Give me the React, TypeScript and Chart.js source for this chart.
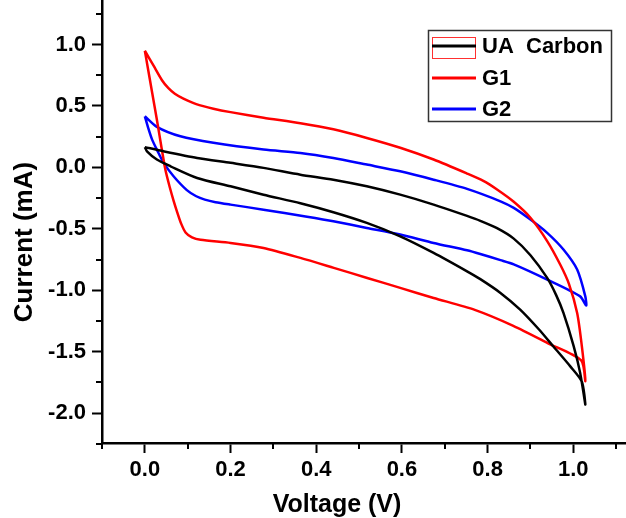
import React, { useEffect, useRef } from 'react';
import { Chart, registerables } from 'chart.js';

Chart.register(...registerables);

// ---- Data ----
// UA Carbon (black loop): upper branch left->right, then lower branch right->left
const uaVoltage = [
  0.000, 0.044, 0.122, 0.200, 0.277, 0.363, 0.440, 0.518, 0.596, 0.674, 0.752, 0.783, 0.822, 0.861, 0.900, 0.939, 0.960, 0.977, 1.001, 1.016, 1.028,
  1.020, 0.993, 0.954, 0.920, 0.876, 0.830, 0.783, 0.752, 0.674, 0.596, 0.518, 0.440, 0.363, 0.277, 0.200, 0.122, 0.060, 0.028, 0.005, 0.000,
];
const uaCurrent = [
  0.165, 0.131, 0.077, 0.037, -0.004, -0.059, -0.100, -0.154, -0.222, -0.303, -0.395, -0.435, -0.495, -0.580, -0.715, -0.900, -1.040, -1.185, -1.457, -1.673, -1.930,
  -1.745, -1.620, -1.460, -1.320, -1.158, -1.022, -0.910, -0.846, -0.696, -0.561, -0.452, -0.365, -0.292, -0.222, -0.154, -0.086, 0.009, 0.064, 0.131, 0.165,
];

// G1 (red loop)
const g1Voltage = [
  0.000, 0.020, 0.040, 0.055, 0.070, 0.090, 0.120, 0.160, 0.200, 0.277, 0.363, 0.440, 0.518, 0.596, 0.674, 0.752, 0.790, 0.822, 0.861, 0.900, 0.939, 0.970, 0.990, 1.009, 1.020, 1.028,
  1.018, 0.940, 0.860, 0.770, 0.674, 0.596, 0.519, 0.441, 0.363, 0.277, 0.200, 0.130, 0.110, 0.095, 0.085, 0.076, 0.067, 0.058, 0.048, 0.038, 0.028, 0.017, 0.006, 0.000,
];
const g1Current = [
  0.950, 0.830, 0.710, 0.645, 0.600, 0.560, 0.515, 0.478, 0.450, 0.405, 0.360, 0.310, 0.240, 0.160, 0.064, -0.050, -0.110, -0.180, -0.280, -0.410, -0.600, -0.795, -0.950, -1.185, -1.457, -1.740,
  -1.570, -1.430, -1.290, -1.160, -1.063, -0.981, -0.900, -0.818, -0.737, -0.656, -0.615, -0.590, -0.570, -0.530, -0.460, -0.370, -0.270, -0.160, -0.020, 0.180, 0.390, 0.610, 0.830, 0.950,
];

// G2 (blue loop)
const g2Voltage = [
  0.000, 0.028, 0.083, 0.160, 0.277, 0.363, 0.440, 0.518, 0.596, 0.674, 0.752, 0.830, 0.861, 0.900, 0.939, 0.977, 1.009, 1.028, 1.030,
  1.016, 0.939, 0.861, 0.830, 0.783, 0.752, 0.674, 0.596, 0.518, 0.440, 0.375, 0.277, 0.200, 0.165, 0.140, 0.120, 0.098, 0.067, 0.044, 0.028, 0.017, 0.008, 0.000,
];
const g2Current = [
  0.416, 0.330, 0.253, 0.200, 0.145, 0.118, 0.077, 0.023, -0.032, -0.100, -0.175, -0.276, -0.330, -0.425, -0.533, -0.669, -0.832, -1.050, -1.125,
  -1.050, -0.914, -0.790, -0.755, -0.705, -0.675, -0.615, -0.547, -0.493, -0.439, -0.400, -0.344, -0.303, -0.283, -0.262, -0.235, -0.185, -0.072, 0.037, 0.145, 0.226, 0.320, 0.416,
];

const seriesNames = ['UA  Carbon', 'G1', 'G2'];
const seriesColors = ['#000000', '#ff0000', '#0000ff'];

const xMajorTicks = [0.0, 0.2, 0.4, 0.6, 0.8, 1.0];
const xMinorTicks = [-0.1, 0.1, 0.3, 0.5, 0.7, 0.9, 1.1];
const yMajorTicks = [-2.0, -1.5, -1.0, -0.5, 0.0, 0.5, 1.0];
const yMinorTicks = [-2.25, -1.75, -1.25, -0.75, -0.25, 0.25, 0.75, 1.25];

const xTitle = 'Voltage (V)';
const yTitle = 'Current (mA)';

const FONT = "'Liberation Sans', Arial, sans-serif";

function toPoints(xs: number[], ys: number[]) {
  return xs.map((x, i) => ({ x, y: ys[i] }));
}

const minorTicksPlugin = {
  id: 'minorTicks',
  afterDraw(chart: any) {
    const { ctx, chartArea } = chart;
    const xs = chart.scales.x;
    const ys = chart.scales.y;
    ctx.save();
    ctx.strokeStyle = '#000';
    ctx.lineWidth = 2;
    ctx.beginPath();
    xMinorTicks.forEach((v) => {
      const px = Math.round(xs.getPixelForValue(v));
      ctx.moveTo(px, chartArea.bottom);
      ctx.lineTo(px, chartArea.bottom + 6);
    });
    yMinorTicks.forEach((v) => {
      const py = Math.round(ys.getPixelForValue(v));
      ctx.moveTo(chartArea.left, py);
      ctx.lineTo(chartArea.left - 6, py);
    });
    ctx.stroke();
    ctx.restore();
  },
};

const titlesPlugin = {
  id: 'axisTitles',
  afterDraw(chart: any) {
    const { ctx } = chart;
    ctx.save();
    ctx.fillStyle = '#000';
    ctx.textAlign = 'center';
    ctx.textBaseline = 'alphabetic';
    ctx.font = `bold 25px ${FONT}`;
    ctx.fillText(xTitle, 337, 512);
    ctx.font = `bold 26px ${FONT}`;
    ctx.translate(32, 242);
    ctx.rotate(-Math.PI / 2);
    ctx.fillText(yTitle, 0, 0);
    ctx.restore();
  },
};

const legendPlugin = {
  id: 'boxLegend',
  afterDraw(chart: any) {
    const { ctx } = chart;
    ctx.save();
    ctx.fillStyle = '#fff';
    ctx.fillRect(428, 30, 184, 92);
    ctx.strokeStyle = '#333';
    ctx.lineWidth = 1.5;
    ctx.strokeRect(428.5, 30.5, 183, 91);
    const rows = [46, 78, 109];
    seriesNames.forEach((name, i) => {
      const y = rows[i];
      if (i === 0) {
        ctx.strokeStyle = '#ff3030';
        ctx.lineWidth = 1;
        ctx.strokeRect(432.5, 37.5, 43, 21);
      }
      ctx.strokeStyle = seriesColors[i];
      ctx.lineWidth = 3;
      ctx.beginPath();
      ctx.moveTo(432, y);
      ctx.lineTo(476, y);
      ctx.stroke();
      ctx.fillStyle = '#000';
      ctx.font = `bold 22px ${FONT}`;
      ctx.textAlign = 'left';
      ctx.textBaseline = 'middle';
      ctx.fillText(name, 482, y + 1);
    });
    ctx.restore();
  },
};

export default function App() {
  const ref = useRef<HTMLCanvasElement | null>(null);

  useEffect(() => {
    if (!ref.current) return;
    const tickFont = { family: FONT, weight: 'bold' as const, size: 22 };
    const chart = new Chart(ref.current, {
      type: 'scatter',
      data: {
        datasets: [
          { label: seriesNames[0], data: toPoints(uaVoltage, uaCurrent), borderColor: seriesColors[0] },
          { label: seriesNames[1], data: toPoints(g1Voltage, g1Current), borderColor: seriesColors[1] },
          { label: seriesNames[2], data: toPoints(g2Voltage, g2Current), borderColor: seriesColors[2] },
        ].map((d) => ({
          ...d,
          showLine: true,
          pointRadius: 0,
          pointHoverRadius: 0,
          borderWidth: 2.5,
          tension: 0.25,
          fill: false,
        })),
      },
      options: {
        responsive: false,
        animation: false,
        layout: { padding: 0 },
        plugins: { legend: { display: false }, tooltip: { enabled: false }, title: { display: false } },
        scales: {
          x: {
            type: 'linear',
            min: -0.1,
            max: 1.123,
            afterBuildTicks: (s: any) => {
              s.ticks = xMajorTicks.map((v) => ({ value: v }));
            },
            afterFit: (s: any) => {
              s.height = 75;
              s.paddingLeft = 0;
              s.paddingRight = 0;
            },
            ticks: {
              callback: (v: any) => Number(v).toFixed(1),
              font: tickFont,
              color: '#000',
              padding: 4,
              maxRotation: 0,
              autoSkip: false,
            },
            grid: { drawOnChartArea: false, drawTicks: true, tickLength: 10, tickWidth: 2, tickColor: '#000' },
            border: { display: true, color: '#000', width: 2.5 },
          },
          y: {
            type: 'linear',
            min: -2.244,
            max: 1.363,
            afterBuildTicks: (s: any) => {
              s.ticks = yMajorTicks.map((v) => ({ value: v }));
            },
            afterFit: (s: any) => {
              s.width = 102;
              s.paddingTop = 0;
              s.paddingBottom = 0;
            },
            ticks: {
              callback: (v: any) => Number(v).toFixed(1),
              font: tickFont,
              color: '#000',
              padding: 6,
              autoSkip: false,
            },
            grid: { drawOnChartArea: false, drawTicks: true, tickLength: 10, tickWidth: 2, tickColor: '#000' },
            border: { display: true, color: '#000', width: 2.5 },
          },
        },
      },
      plugins: [minorTicksPlugin, titlesPlugin, legendPlugin],
    });
    return () => chart.destroy();
  }, []);

  return (
    <div style={{ position: 'absolute', left: 0, top: 0, width: 626, height: 518, background: '#fff' }}>
      <canvas ref={ref} width={626} height={518} style={{ display: 'block', width: 626, height: 518 }} />
    </div>
  );
}
